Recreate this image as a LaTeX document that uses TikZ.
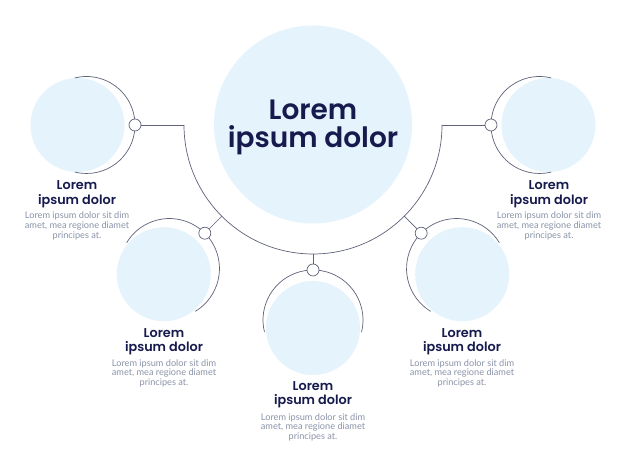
\documentclass[tikz,border=0pt]{standalone}
\usepackage{fontspec}
\setmainfont{Lato}
\newfontfamily\headfont{Poppins SemiBold}
\definecolor{bluef}{HTML}{E5F3FD}
\definecolor{linec}{HTML}{5E6378}
\definecolor{navy}{HTML}{161A4D}
\definecolor{grayt}{HTML}{8A93A8}
\begin{document}
\begin{tikzpicture}[x=1pt,y=1pt,
  line/.style={draw=linec, line width=0.7pt},
  fillc/.style={circle, fill=bluef, inner sep=0pt, minimum size=#1},
  knob/.style={circle, draw=linec, fill=white, line width=0.7pt, inner sep=0pt, minimum size=12pt},
  head/.style={font=\headfont\fontsize{12.8}{14.5}\selectfont, text=navy, align=center, inner sep=0pt},
  body/.style={font=\fontsize{9.2}{9.6}\selectfont, text=grayt, align=center, inner sep=0pt},
]
\useasboundingbox (0,0) rectangle (626,470);
\fill[white] (0,0) rectangle (626,470);
\coordinate (M) at (313,345);
% filled circles
\node[fillc=198pt] (main) at (313,345.5) {};
\node[fillc=94pt] (fL) at (77.5,345) {};
\path (M) ++(225:211) node[fillc=94pt] (fLL) {};
\node[fillc=94pt] (fB) at (313,142) {};
\path (M) ++(315:211) node[fillc=94pt] (fLR) {};
\node[fillc=94pt] (fR) at (548.5,345) {};
% outline centres
\coordinate (oL) at (86.5,345);
\path (M) ++(225:203) coordinate (oLL);
\coordinate (oB) at (313,150);
\path (M) ++(315:203) coordinate (oLR);
\coordinate (oR) at (539.5,345);
% big arc
\draw[line] (M) ++(180:129) arc[start angle=180, end angle=360, radius=129];
% outline arcs
\draw[line] (oL) ++(104:48.5) arc[start angle=104, end angle=-104, radius=48.5];
\draw[line] (oLL) ++(149:50) arc[start angle=149, end angle=-59, radius=50];
\draw[line] (oB) ++(194:50) arc[start angle=194, end angle=-14, radius=50];
\draw[line] (oLR) ++(31:50) arc[start angle=31, end angle=239, radius=50];
\draw[line] (oR) ++(76:48.5) arc[start angle=76, end angle=284, radius=48.5];
% arc points
\path (M) ++(180:129) coordinate (aL);
\path (M) ++(225:129) coordinate (aLL);
\path (M) ++(270:129) coordinate (aB);
\path (M) ++(315:129) coordinate (aLR);
\path (M) ++(0:129) coordinate (aR);
% knobs
\node[knob] (kL) at (135,345) {};
\path (M) ++(225:153) node[knob] (kLL) {};
\node[knob] (kB) at (313,200) {};
\path (M) ++(315:153) node[knob] (kLR) {};
\node[knob] (kR) at (491,345) {};
% connectors
\draw[line] (aL) -- (kL);
\draw[line] (aLL) -- (kLL);
\draw[line] (aB) -- (kB);
\draw[line] (aLR) -- (kLR);
\draw[line] (aR) -- (kR);
% title
\node[font=\headfont\fontsize{28}{28.5}\selectfont, text=navy, align=center, inner sep=0pt] (title) at (313,342.5) {Lorem\\ipsum dolor};
% labels
\node[head] (hL) at (77,276) {Lorem\\ipsum dolor};
\node[body] (bL) at (77,244) {Lorem ipsum dolor sit dim\\amet, mea regione diamet\\principes at.};
\node[head] (hR) at (549,276) {Lorem\\ipsum dolor};
\node[body] (bR) at (549,244) {Lorem ipsum dolor sit dim\\amet, mea regione diamet\\principes at.};
\node[head] (hLL) at (164,128.5) {Lorem\\ipsum dolor};
\node[body] (bLL) at (164,96.7) {Lorem ipsum dolor sit dim\\amet, mea regione diamet\\principes at.};
\node[head] (hLR) at (462,128.5) {Lorem\\ipsum dolor};
\node[body] (bLR) at (462,96.7) {Lorem ipsum dolor sit dim\\amet, mea regione diamet\\principes at.};
\node[head] (hB) at (313,75.1) {Lorem\\ipsum dolor};
\node[body] (bB) at (313,42.9) {Lorem ipsum dolor sit dim\\amet, mea regione diamet\\principes at.};
\end{tikzpicture}
\end{document}
